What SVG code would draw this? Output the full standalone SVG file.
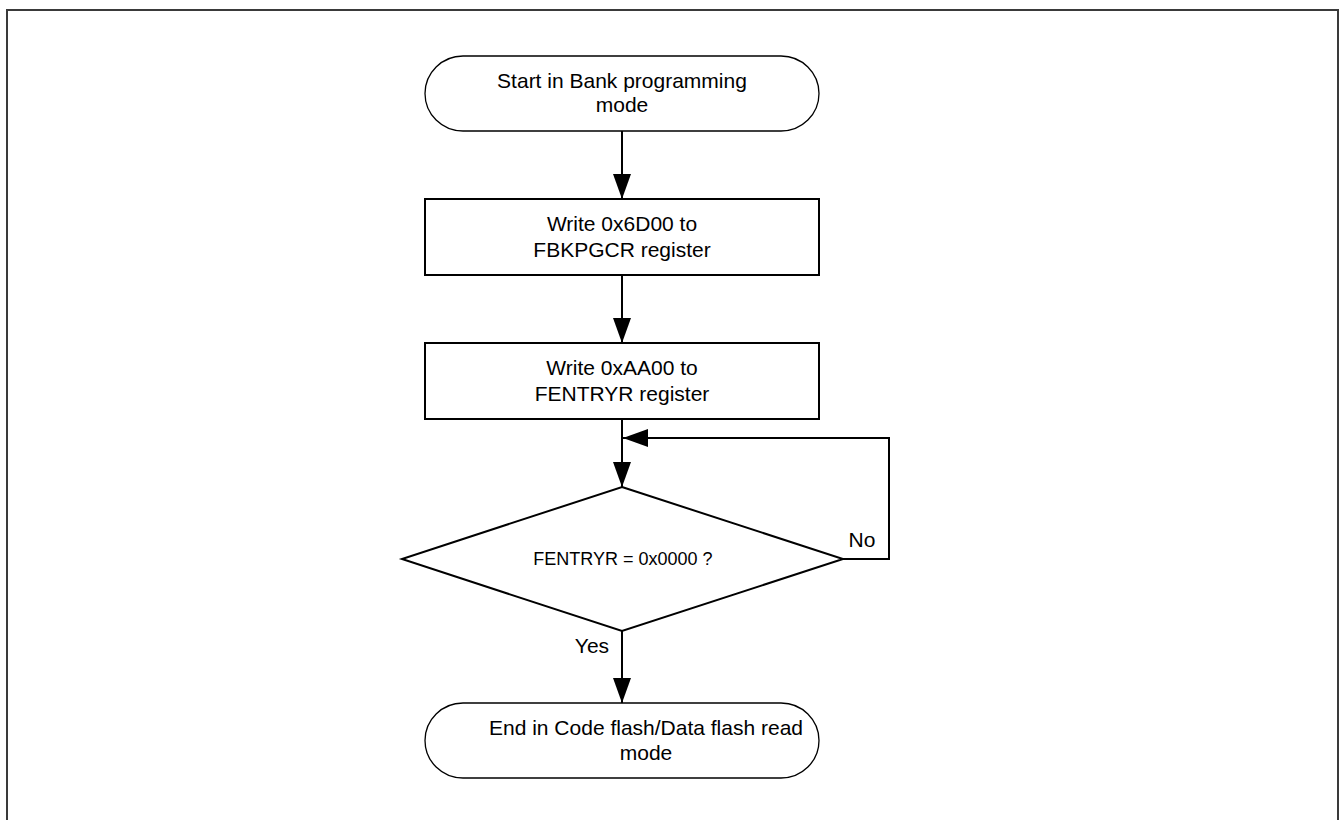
<svg xmlns="http://www.w3.org/2000/svg" width="1340" height="820" viewBox="0 0 1340 820">
<style>
.t{font-family:"Liberation Sans",Arial,sans-serif;font-size:21px;fill:#000;text-anchor:middle}
.d{font-size:18px}
.term{fill:#fff;stroke:#000;stroke-width:1.3}
.box{fill:#fff;stroke:#000;stroke-width:2}
.c{fill:none;stroke:#000;stroke-width:2}
</style>
<defs>
<marker id="ah" markerUnits="userSpaceOnUse" markerWidth="26" markerHeight="18" refX="25" refY="9" orient="auto">
<path d="M0,0 L25,9 L0,18 Z" fill="#000"/>
</marker>
</defs>
<rect x="7" y="10" width="1331" height="830" fill="#fff" stroke="#3a3a3a" stroke-width="2"/>
<g id="connectors">
<line class="c" x1="622" y1="131" x2="622" y2="199" marker-end="url(#ah)"/>
<line class="c" x1="622" y1="275" x2="622" y2="343" marker-end="url(#ah)"/>
<line class="c" x1="622" y1="419" x2="622" y2="487" marker-end="url(#ah)"/>
<polyline class="c" points="843,559 889,559 889,438 623,438" marker-end="url(#ah)"/>
<line class="c" x1="622" y1="631" x2="622" y2="703" marker-end="url(#ah)"/>
<text class="t" x="862" y="547">No</text>
<text class="t" x="592" y="653">Yes</text>
</g>
<g id="start">
<rect class="term" x="425" y="56" width="394" height="75" rx="38" ry="37.5"/>
<text class="t" x="622" y="88">Start in Bank programming</text>
<text class="t" x="622" y="112">mode</text>
</g>
<g id="write1">
<rect class="box" x="425" y="199" width="394" height="76"/>
<text class="t" x="622" y="231">Write 0x6D00 to</text>
<text class="t" x="622" y="257">FBKPGCR register</text>
</g>
<g id="write2">
<rect class="box" x="425" y="343" width="394" height="76"/>
<text class="t" x="622" y="375">Write 0xAA00 to</text>
<text class="t" x="622" y="401">FENTRYR register</text>
</g>
<g id="decision">
<polygon class="box" points="622,487 843,559 622,631 402,559"/>
<text class="t d" x="623" y="565">FENTRYR = 0x0000 ?</text>
</g>
<g id="end">
<rect class="term" x="425" y="703" width="394" height="75" rx="38" ry="37.5"/>
<text class="t" x="646" y="735">End in Code flash/Data flash read</text>
<text class="t" x="646" y="760">mode</text>
</g>
</svg>
